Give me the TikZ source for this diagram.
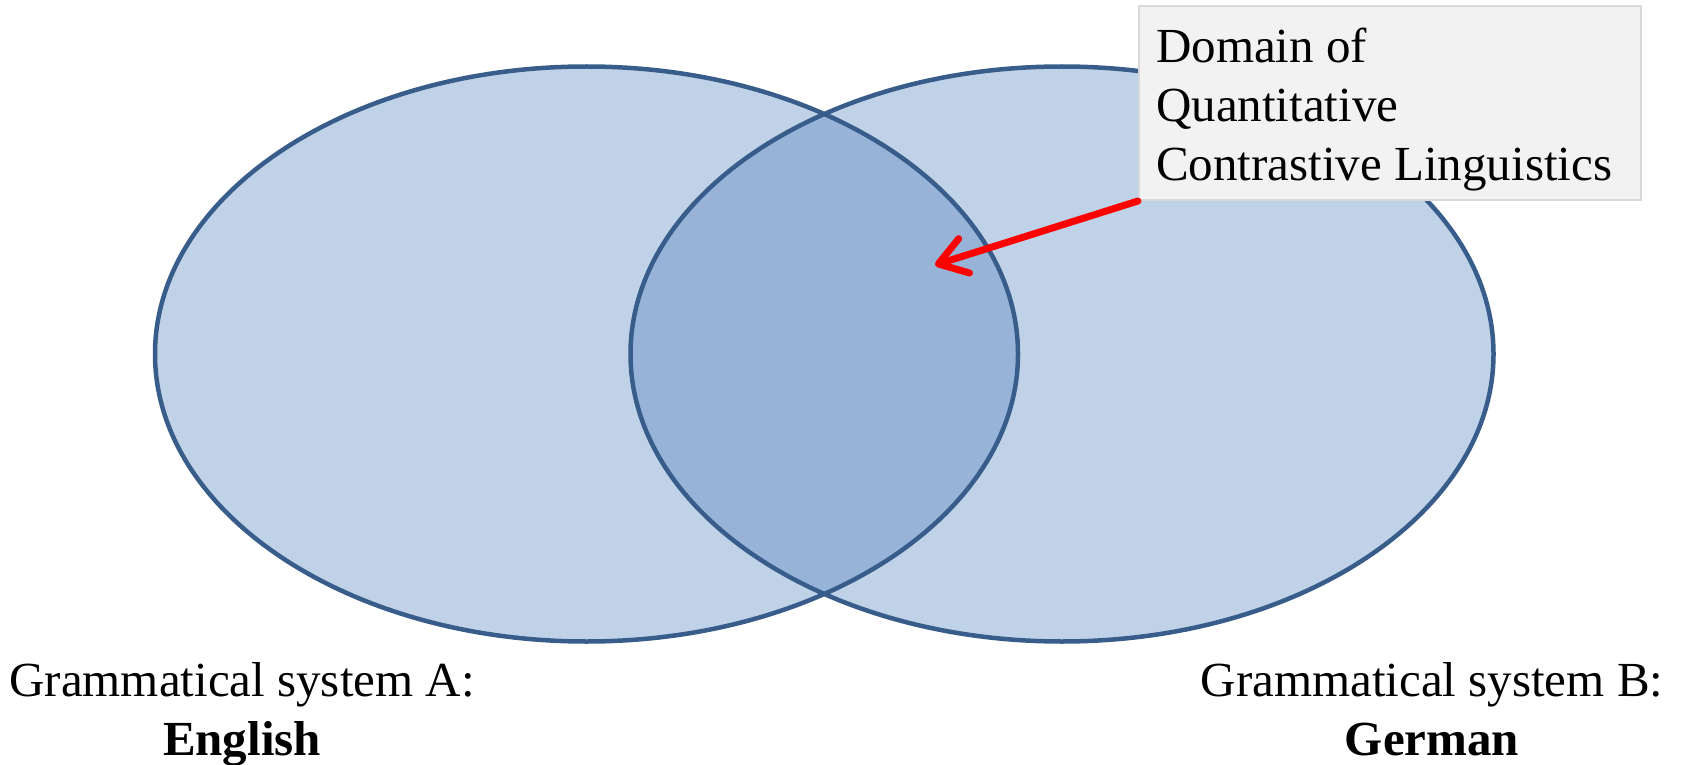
\documentclass[tikz,border=0pt]{standalone}
\usepackage{fontspec}
\setmainfont{Liberation Serif}
\usetikzlibrary{arrows.meta,shapes.geometric}

\definecolor{vennblue}{HTML}{4F81BD}
\definecolor{vennline}{HTML}{385D8A}
\definecolor{boxfill}{HTML}{F2F2F2}
\definecolor{boxline}{HTML}{D9D9D9}

\begin{document}
\begin{tikzpicture}[x=1pt,y=-1pt,
    >={Straight Barb[length=27pt,width=36pt,round]},
    lbl/.style={font=\fontsize{49}{59}\selectfont, inner sep=0pt}]

    \useasboundingbox (0,0) rectangle (1681,765);

    \node[ellipse,
          fill = vennblue,
          fill opacity = 0.36,
          minimum width = 863pt,
          minimum height = 575pt
          ] (engl) at (586.5,354) {};

    \node[ellipse,
          fill = vennblue,
          fill opacity = 0.36,
          minimum width = 863pt,
          minimum height = 575pt
          ] (germ) at (1062,354) {};

    % outlines over both fills
    \draw[vennline, line width=4.5pt] (engl.center) ellipse [x radius=431.5, y radius=287.5];
    \draw[vennline, line width=4.5pt] (germ.center) ellipse [x radius=431.5, y radius=287.5];

    \node[rectangle,
          draw = boxline,
          fill = boxfill,
          line width = 2pt,
          anchor = north west,
          minimum width = 502pt,
          minimum height = 194pt
          ] (dom) at (1138,5) {};
    \node[lbl, align=left, anchor=north west] (domtext) at (1156,28)
        {Domain of\\Quantitative\\Contrastive Linguistics};

    \coordinate (overlap) at (935,265);

    \node[lbl, align=center, anchor=north] (sysa) at (242,662)
        {Grammatical system A:\\\textbf{English}};
    \node[lbl, align=center, anchor=north] (sysb) at (1432,662)
        {Grammatical system B:\\\textbf{German}};

    \path[->, red, line width=7pt, line cap=round]
    %box to overlap
    (dom.south west) edge [] (overlap);

\end{tikzpicture}
\end{document}
